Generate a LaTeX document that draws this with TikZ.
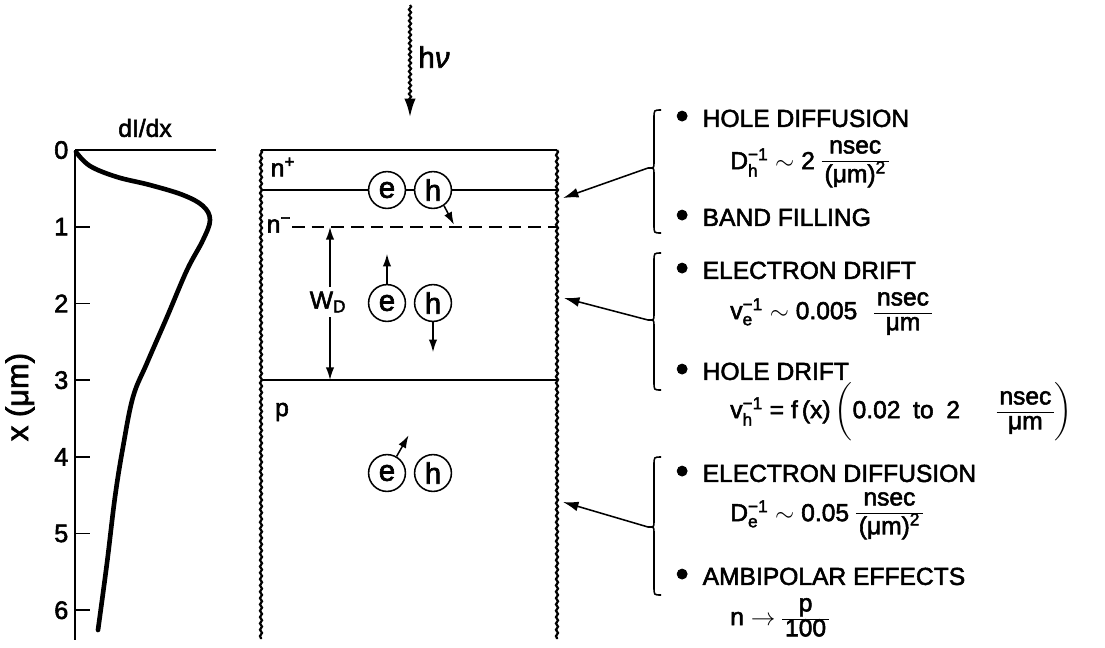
\documentclass[tikz,border=0pt]{standalone}
\usepackage{fix-cm}
\usepackage{amsmath}
\usepackage{fontspec}
\setmainfont{Liberation Sans}[FakeBold=2.2]
\usetikzlibrary{arrows.meta,positioning,decorations.pathmorphing,calc}
\newcommand{\unitfrac}[2]{{\def\arraystretch{0.82}%
  \begin{tabular}[c]{@{\hspace{2pt}}c@{\hspace{2pt}}}#1\\\hline #2\end{tabular}}}
\newcommand{\dotmark}{\raisebox{-1pt}{\scalebox{1.5}{\textbullet}}\hspace{10pt}}

\begin{document}
\begin{tikzpicture}[x=0.025cm, y=-0.025cm,
    every node/.style={font=\fontsize{17.5}{21}\selectfont, inner sep=1pt},
    wavy/.style={line width=1.6pt, decorate,
      decoration={snake, amplitude=0.7pt, segment length=4.5pt}},
    layer/.style={line width=1.2pt},
    carrier/.style={draw, circle, line width=1.1pt, fill=white,
      minimum size=0.92cm, inner sep=0pt, font=\fontsize{21}{25}\selectfont},
    kick/.style={line width=1.1pt, -{Latex[length=9pt,width=6pt]}},
    brace/.style={line width=1.1pt},
    point/.style={line width=1.1pt, -{Latex[length=11pt,width=7pt]}},
    item/.style={anchor=west},
    formula/.style={anchor=west, inner sep=0pt}]
  \useasboundingbox (0,0) rectangle (1105,647);

  % Absorption profile
  \draw[line width=1.2pt] (75,150) -- (75,640);
  \draw[line width=1.2pt] (75,150) -- (216,150);
  \foreach \d in {1,...,6}
    \draw[line width=1.2pt] (75,{150+76.7*\d}) -- (90,{150+76.7*\d});
  \foreach \d in {0,...,6}
    \node[anchor=east, font=\fontsize{18}{21}\selectfont] (tick\d) at (70,{150+76.7*\d}) {\d};
  \node (dIdx) at (145,128) {dI/dx};
  \node[rotate=90, font=\fontsize{22}{26}\selectfont] (xlabel) at (20,397) {x (μm)};
  \draw[line width=3.3pt, line cap=round] plot[smooth, tension=0.6]
    coordinates{(76,152) (90,166) (117,177) (150,185) (183,195) (203,206)
      (210,220) (203,240) (187,270) (167,317) (147,363) (133,397)
      (123,447) (115,497) (107,563) (98,630)};

  % Device cross-section
  \draw[layer] (261,150) -- (557,150);
  \draw[wavy] (261,150) -- (261,639);
  \draw[wavy] (557,150) -- (557,639);
  \draw[layer] (261,380) -- (557,380);
  \draw[layer, dashed, dash pattern=on 9pt off 5pt] (292,227) -- (557,227);
  \node (nplus) at (283,167) {n\textsuperscript{+}};
  \node (nminus) at (279,225) {n\textsuperscript{−}};
  \node (pside) at (282,412) {p};

  % Photons
  \node[font=\fontsize{21}{25}\selectfont] (hnu) at (434,57) {h\textit{ν}};
  \coordinate (photontop) at (410,5);
  \coordinate (photonend) at (410,117);
  \draw[line width=1.5pt, decorate,
    decoration={snake, amplitude=0.8pt, segment length=4pt, post length=9pt},
    -{Latex[length=13pt,width=8pt]}] (photontop) -- (photonend);

  % Carriers
  \node[carrier] (e1) at (387,190) {e};
  \node[carrier] (h1) at (433,190) {h};
  \node[carrier] (e2) at (387,303) {e};
  \node[carrier] (h2) at (433,303) {h};
  \node[carrier] (e3) at (387,473) {e};
  \node[carrier] (h3) at (433,473) {h};
  \draw[layer] (261,190) -- (e1);
  \draw[layer] (e1) -- (h1);
  \draw[layer] (h1) -- (557,190);
  \draw[kick] (h1.-55) -- ++(10,19);
  \draw[kick] (e2.north) -- ++(0,-30);
  \draw[kick] (h2.south) -- ++(0,30);
  \draw[kick] (e3.60) -- ++(12,-21);

  % Depletion width
  \node (wd) at (328,302) {W\textsubscript{D}};
  \coordinate (wdtop) at (330,227);
  \coordinate (wdbot) at (330,380);
  \draw[kick] (wd.north -| wdtop) ++(0,-3) -- (wdtop);
  \draw[kick] (wd.south -| wdbot) ++(0,3) -- (wdbot);

  % Braces
  \coordinate (b1) at (648,168);
  \coordinate (b2) at (648,320);
  \coordinate (b3) at (648,527);
  \draw[brace] (661,110) .. controls (654,110) .. (654,118) -- (654,163)
    .. controls (654,168) .. (b1) .. controls (654,168) .. (654,173)
    -- (654,225) .. controls (654,233) .. (661,233);
  \draw[brace] (661,253) .. controls (654,253) .. (654,261) -- (654,315)
    .. controls (654,320) .. (b2) .. controls (654,320) .. (654,325)
    -- (654,382) .. controls (654,390) .. (661,390);
  \draw[brace] (661,457) .. controls (654,457) .. (654,465) -- (654,522)
    .. controls (654,527) .. (b3) .. controls (654,527) .. (654,532)
    -- (654,587) .. controls (654,595) .. (661,595);
  \coordinate (s1) at (563,198);
  \coordinate (s2) at (564,298);
  \coordinate (s3) at (563,502);
  \draw[point] (b1) -- (s1);
  \draw[point] (b2) -- (s2);
  \draw[point] (b3) -- (s3);

  % Mechanisms
  \node[item] (hdiff) at (674,119) {\dotmark HOLE DIFFUSION};
  \node[formula] (hdform) at (730,163)
    {D$_{\text{h}}^{\text{−1}}\sim$ 2 \unitfrac{nsec}{(μm)\textsuperscript{2}}};
  \node[item] (bfill) at (674,218) {\dotmark BAND FILLING};
  \node[item] (edrift) at (674,271) {\dotmark ELECTRON DRIFT};
  \node[formula] (edform) at (730,313)
    {v$_{\text{e}}^{\text{−1}}\sim$ 0.005\hspace{12pt}\unitfrac{nsec}{μm}};
  \node[item] (hdrift) at (674,372) {\dotmark HOLE DRIFT};
  \node[formula] (hdrform) at (730,412)
    {v$_{\text{h}}^{\text{−1}}$ = f\,(x)\,$\biggl(\text{0.02\hspace{9pt}to\hspace{9pt}2}\hspace{26pt}\text{\unitfrac{nsec}{μm}}\biggr)$};
  \node[item] (ediff) at (674,474) {\dotmark ELECTRON DIFFUSION};
  \node[formula] (ediform) at (730,515)
    {D$_{\text{e}}^{\text{−1}}\sim$ 0.05 \unitfrac{nsec}{(μm)\textsuperscript{2}}};
  \node[item] (ambi) at (674,577) {\dotmark AMBIPOLAR EFFECTS};
  \node[formula] (ambform) at (730,619)
    {n $\rightarrow$ \unitfrac{p}{100}};
\end{tikzpicture}
\end{document}
